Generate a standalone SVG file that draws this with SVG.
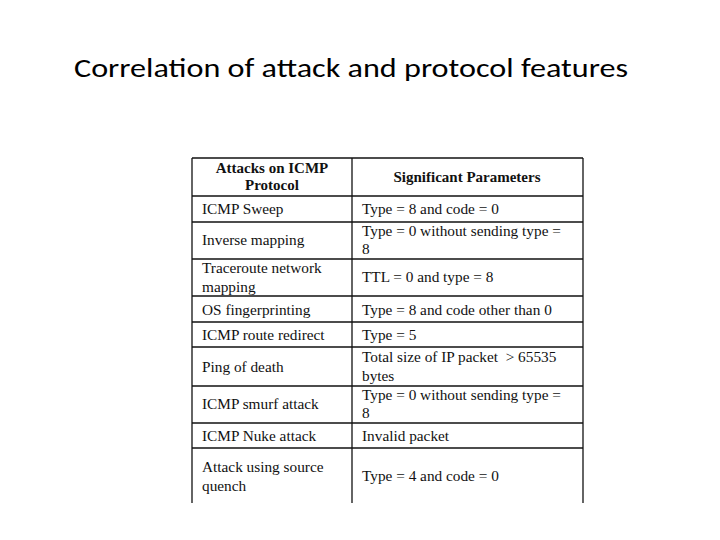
<svg xmlns="http://www.w3.org/2000/svg" width="720" height="540" viewBox="0 0 720 540">
<style>
.t{font-family:"Liberation Serif",serif;font-size:15.3px;fill:#111}
.h{font-family:"Liberation Serif",serif;font-size:15px;font-weight:bold;fill:#111}
.l{stroke:#111;stroke-width:1.3;fill:none}
</style>
<rect width="720" height="540" fill="#fff"/>
<text x="74" y="77" font-family="Carlito,'Liberation Sans',sans-serif" font-size="26" textLength="554" lengthAdjust="spacingAndGlyphs" fill="#000">Correlation of attack and protocol features</text>
<g id="table">
<g class="l">
<line x1="192" y1="158" x2="583" y2="158"/>
<line x1="192" y1="158" x2="192" y2="503"/>
<line x1="352" y1="158" x2="352" y2="503"/>
<line x1="583" y1="158" x2="583" y2="503"/>
<line x1="192" y1="196" x2="583" y2="196"/>
<line x1="192" y1="222" x2="583" y2="222"/>
<line x1="192" y1="259" x2="583" y2="259"/>
<line x1="192" y1="296" x2="583" y2="296"/>
<line x1="192" y1="322" x2="583" y2="322"/>
<line x1="192" y1="347" x2="583" y2="347"/>
<line x1="192" y1="386" x2="583" y2="386"/>
<line x1="192" y1="423" x2="583" y2="423"/>
<line x1="192" y1="448" x2="583" y2="448"/>
</g>
<text class="h" x="272" y="173" text-anchor="middle">Attacks on ICMP</text>
<text class="h" x="272" y="190" text-anchor="middle">Protocol</text>
<text class="h" x="467" y="182" text-anchor="middle">Significant Parameters</text>
<text class="t" x="202" y="214">ICMP Sweep</text>
<text class="t" x="362" y="214">Type = 8 and code = 0</text>
<text class="t" x="202" y="245">Inverse mapping</text>
<text class="t" x="362" y="236">Type = 0 without sending type =</text>
<text class="t" x="362" y="254">8</text>
<text class="t" x="202" y="273">Traceroute network</text>
<text class="t" x="202" y="292">mapping</text>
<text class="t" x="362" y="282">TTL = 0 and type = 8</text>
<text class="t" x="202" y="315">OS fingerprinting</text>
<text class="t" x="362" y="315">Type = 8 and code other than 0</text>
<text class="t" x="202" y="340">ICMP route redirect</text>
<text class="t" x="362" y="340">Type = 5</text>
<text class="t" x="202" y="372">Ping of death</text>
<text class="t" x="362" y="362" xml:space="preserve">Total size of IP packet  &gt; 65535</text>
<text class="t" x="362" y="381">bytes</text>
<text class="t" x="202" y="409">ICMP smurf attack</text>
<text class="t" x="362" y="400">Type = 0 without sending type =</text>
<text class="t" x="362" y="418">8</text>
<text class="t" x="202" y="441">ICMP Nuke attack</text>
<text class="t" x="362" y="441">Invalid packet</text>
<text class="t" x="202" y="472">Attack using source</text>
<text class="t" x="202" y="491">quench</text>
<text class="t" x="362" y="481">Type = 4 and code = 0</text>
</g>
</svg>
